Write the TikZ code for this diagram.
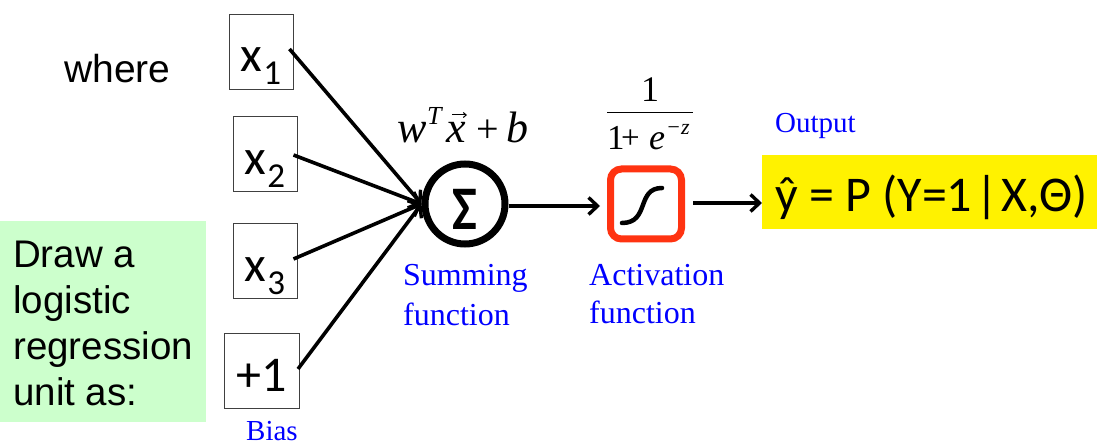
\documentclass[tikz,border=0pt]{standalone}
\usepackage{fontspec}
\setmainfont{Liberation Sans}
\newfontfamily\serifx{Liberation Serif}
\newfontfamily\carl{Carlito}
\usetikzlibrary{arrows.meta}
\newcommand{\xsub}[1]{x\kern1pt\raisebox{-13pt}{\fontsize{35pt}{35pt}\selectfont #1}}
\tikzset{
 inbox/.style={draw=black!75,line width=1pt,fill=white,inner sep=0pt},
 lbl/.style={text=blue,font=\serifx\fontsize{29pt}{29pt}\selectfont,inner sep=0pt,align=left,anchor=west},
 conn/.style={line width=3.6pt,-{Straight Barb[length=9pt,width=17pt,line width=3.4pt]}},
 xt/.style={font=\carl\fontsize{50pt}{50pt}\selectfont,inner sep=0pt,anchor=base},
 mth/.style={font=\serifx\itshape\fontsize{44pt}{44pt}\selectfont,inner sep=0pt,anchor=base west}
}
\begin{document}
\begin{tikzpicture}[x=1pt,y=-1pt]
\useasboundingbox (0,0) rectangle (1097,443);
\fill[white] (0,0) rectangle (1097,443);
\fill[fill={rgb,255:red,204;green,255;blue,204}] (0,221) rectangle (206,422);
\node[anchor=west,inner sep=0pt,align=left,font=\fontsize{38.5pt}{46pt}\selectfont] (lab) at (13,323) {Draw a\\logistic\\regression\\unit as:};
\node[anchor=west,inner sep=0pt,font=\fontsize{39pt}{40pt}\selectfont] (where) at (64,69) {where};
\node[inbox,minimum width=64pt,minimum height=75pt] (x1) at (261,52) {};
\node[inbox,minimum width=64pt,minimum height=75pt] (x2) at (265,154) {};
\node[inbox,minimum width=64pt,minimum height=75pt] (x3) at (265,261) {};
\node[inbox,minimum width=75pt,minimum height=75pt] (b) at (262,371) {};
\node[xt] at (261,72) {\xsub{1}};
\node[xt] at (265,175) {\xsub{2}};
\node[xt] at (265,282) {\xsub{3}};
\node[xt] at (262,391) {+1};
\node[circle,draw=black,line width=7pt,minimum size=80pt,inner sep=0pt,fill=white] (sum) at (465,204) {};
\node[inner sep=0pt,anchor=base,font=\carl\bfseries\fontsize{62pt}{62pt}\selectfont] at (465,230) {\scalebox{0.85}[1]{Σ}};
\draw[conn] ([shift={(-4,-3)}]x1.east) -- (sum.west);
\draw[conn] ([shift={(-4,1)}]x2.east) -- (sum.west);
\draw[conn] ([shift={(-4,-2)}]x3.east) -- (sum.west);
\draw[conn] ([shift={(-2,-2)}]b.east) -- (sum.west);
\node[draw={rgb,255:red,255;green,51;blue,17},line width=7pt,rounded corners=11pt,minimum width=71pt,minimum height=70pt,fill=white] (act) at (646,204) {};
\draw[line width=4.5pt,line cap=round] (622,223) .. controls (650,223) and (636,188) .. (662,188);
\draw[conn] ([shift={(0,2)}]sum.east) -- ([shift={(-7,2)}]act.west);
\fill[yellow] (762,155) rectangle (1097,229);
\node[anchor=base west,inner sep=0pt,font=\carl\fontsize{50pt}{50pt}\selectfont] (y) at (775,212) {ŷ = P (Y=1\kern3pt|\kern3pt X,Θ)};
\coordinate (yl) at (762,203);
\coordinate (ys) at (693,203);
\draw[conn] (ys) -- (yl);
\node[lbl] (o) at (775,126) {Output};
\node[lbl,font=\serifx\fontsize{32pt}{40pt}\selectfont] (sf) at (403,295) {Summing\\function};
\node[lbl,font=\serifx\fontsize{32pt}{38pt}\selectfont] (af) at (589,294) {Activation\\function};
\node[lbl,anchor=base west] (bi) at (246,440) {Bias};
\node[mth] (w) at (397,143) {w};
\node[mth,font=\serifx\itshape\fontsize{26pt}{26pt}\selectfont] (t) at (427,125) {T};
\node[mth] (x) at (446,143) {x};
\draw[line width=1pt,-{Straight Barb[length=3pt,width=5pt]}] (452,115) -- (467,115);
\node[mth,font=\serifx\fontsize{40pt}{40pt}\selectfont] (pl) at (476,143) {+};
\node[mth] (bb) at (506,143) {b};
\node[mth,anchor=base,font=\serifx\fontsize{36pt}{36pt}\selectfont] (n1) at (650,102) {1};
\draw[line width=1pt] (607,113) -- (693,113);
\node[mth,font=\serifx\fontsize{35pt}{35pt}\selectfont] (d1) at (607,150) {1};
\node[mth,font=\serifx\fontsize{33pt}{33pt}\selectfont] (d2) at (621,149) {+};
\node[mth,font=\serifx\itshape\fontsize{36pt}{36pt}\selectfont] (e) at (649,150) {e};
\node[mth,font=\serifx\itshape\fontsize{22pt}{22pt}\selectfont] (z) at (666,135) {−z};
\end{tikzpicture}
\end{document}
